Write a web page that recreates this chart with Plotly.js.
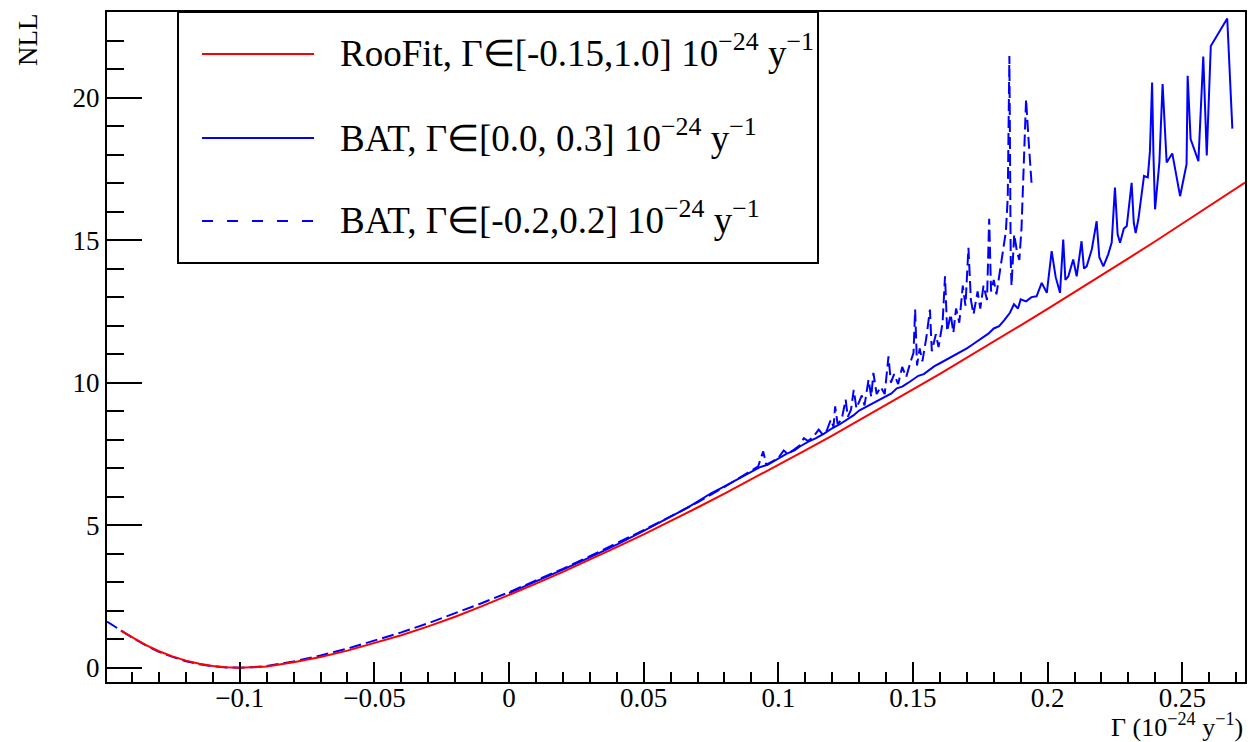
<!DOCTYPE html>
<html>
<head>
<meta charset="utf-8">
<script src="https://cdn.plot.ly/plotly-3.0.1.min.js"></script>
<style>
html,body{margin:0;padding:0;background:#fff;}
#chart{width:1250px;height:742px;}
</style>
</head>
<body>
<div id="chart"></div>
<script>
// ---------------- data ----------------
const gammaRoo = [-0.1442,-0.14,-0.135,-0.13,-0.125,-0.12,-0.115,-0.11,-0.105,-0.10,-0.095,-0.09,-0.08,-0.07,-0.06,-0.05,-0.04,-0.03,-0.02,-0.01,0.00,0.01,0.02,0.03,0.04,0.05,0.06,0.07,0.08,0.09,0.10,0.11,0.12,0.13,0.14,0.15,0.16,0.17,0.18,0.19,0.20,0.21,0.22,0.23,0.24,0.25,0.26,0.27,0.2733];
const nllRoo   = [1.30,1.06,0.80,0.58,0.40,0.25,0.14,0.06,0.015,0.0,0.01,0.04,0.19,0.38,0.60,0.86,1.14,1.45,1.79,2.16,2.55,2.95,3.36,3.79,4.23,4.68,5.14,5.62,6.11,6.61,7.11,7.62,8.14,8.67,9.21,9.76,10.31,10.87,11.44,12.01,12.59,13.17,13.76,14.36,14.96,15.57,16.19,16.81,17.02];

// BAT, Gamma in [0.0, 0.3]  (solid)
const gammaBatPos = [0.000,0.010,0.020,0.030,0.040,0.050,0.060,0.066,0.070,0.075,0.080,0.085,0.090,0.093,0.096,0.100,0.103,0.106,0.108,0.111,0.114,0.117,0.120,0.123,0.126,0.128,0.130,0.132,0.134,0.136,0.138,0.140,0.142,0.144,0.146,0.148,0.150,0.152,0.154,0.156,0.158,0.160,0.162,0.164,0.166,0.168,0.170,0.172,0.174,0.176,0.178,0.180,0.182,0.184,0.186,0.1875,0.189,0.190,0.192,0.194,0.1959,0.1978,0.1997,0.2015,0.2030,0.2046,0.2058,0.2066,0.2077,0.2095,0.2108,0.2126,0.2135,0.2145,0.2164,0.2182,0.2192,0.2207,0.2225,0.2238,0.2250,0.2260,0.2269,0.2283,0.2294,0.2312,0.2320,0.2327,0.2337,0.2358,0.2372,0.2380,0.2388,0.2393,0.2399,0.2415,0.2427,0.2442,0.2463,0.2492,0.2516,0.2520,0.2531,0.2560,0.2578,0.2591,0.2606,0.2667,0.2686];
const nllBatPos   = [2.62,3.02,3.44,3.87,4.32,4.80,5.29,5.60,5.83,6.12,6.36,6.62,6.87,7.03,7.12,7.33,7.50,7.62,7.76,7.92,8.05,8.21,8.40,8.55,8.72,8.86,9.02,9.12,9.20,9.30,9.42,9.50,9.62,9.80,9.86,9.98,10.10,10.24,10.30,10.45,10.58,10.68,10.78,10.90,10.98,11.08,11.20,11.33,11.45,11.58,11.72,11.90,11.98,12.20,12.45,12.75,12.60,12.92,12.85,13.00,13.03,13.50,13.15,14.61,13.70,13.15,15.02,13.60,13.73,14.32,13.73,14.96,14.00,14.08,14.67,15.66,14.40,14.08,14.50,14.91,16.84,15.20,14.91,15.40,15.49,17.01,15.60,15.25,15.73,17.25,17.20,18.12,20.53,18.00,16.08,17.72,20.47,17.72,18.04,16.54,17.66,20.76,18.54,17.77,21.44,17.97,21.81,22.77,18.91];

// BAT, Gamma in [-0.2, 0.2]  (dashed)
const gammaBatSym = [-0.1493,-0.145,-0.14,-0.135,-0.13,-0.125,-0.12,-0.115,-0.11,-0.105,-0.10,-0.095,-0.09,-0.08,-0.07,-0.06,-0.05,-0.04,-0.03,-0.02,-0.01,0.00,0.01,0.02,0.03,0.04,0.05,0.06,0.07,0.080,0.085,0.088,0.090,0.0925,0.0944,0.0955,0.098,0.100,0.102,0.1035,0.106,0.108,0.1095,0.111,0.113,0.115,0.1165,0.118,0.1195,0.1205,0.1211,0.1220,0.1235,0.1250,0.1258,0.127,0.128,0.129,0.131,0.132,0.1335,0.1345,0.1353,0.1365,0.138,0.1395,0.1409,0.1418,0.143,0.1445,0.146,0.1475,0.149,0.1502,0.1508,0.1515,0.1525,0.1535,0.155,0.1563,0.157,0.1585,0.1595,0.1610,0.1619,0.1627,0.1640,0.1650,0.1660,0.1672,0.1685,0.1695,0.1706,0.1715,0.1725,0.1740,0.1750,0.1762,0.1775,0.1783,0.1790,0.1800,0.1810,0.1823,0.1836,0.1845,0.1852,0.1858,0.1863,0.1866,0.1876,0.1886,0.1895,0.1903,0.1912,0.1920,0.1930,0.1941];
const nllBatSym   = [1.62,1.36,1.06,0.79,0.56,0.38,0.23,0.12,0.05,0.01,0.0,0.02,0.06,0.22,0.43,0.67,0.95,1.24,1.56,1.91,2.27,2.65,3.05,3.47,3.91,4.36,4.83,5.31,5.80,6.34,6.63,6.80,6.92,7.06,7.59,7.12,7.25,7.36,7.62,7.50,7.66,7.80,8.05,7.95,8.10,8.35,8.18,8.32,8.70,8.45,9.17,8.55,8.70,9.40,8.80,9.05,9.75,9.10,9.55,9.20,10.10,9.50,10.34,9.60,9.85,9.60,10.92,10.00,10.30,9.95,10.55,10.20,10.70,11.05,12.56,10.60,11.20,10.75,11.60,12.56,11.10,11.70,11.25,12.10,13.73,11.80,12.40,11.75,12.60,12.10,13.40,12.70,14.73,12.90,12.40,13.20,12.60,13.40,12.90,15.75,13.20,13.60,13.10,13.90,14.80,15.30,16.50,21.46,14.30,13.40,15.20,14.60,14.30,15.40,17.80,19.94,18.40,16.90];

const seriesNames = [
  'RooFit, Γ∈[-0.15,1.0] 10<sup>−24</sup> y<sup>−1</sup>',
  'BAT, Γ∈[0.0, 0.3] 10<sup>−24</sup> y<sup>−1</sup>',
  'BAT, Γ∈[-0.2,0.2] 10<sup>−24</sup> y<sup>−1</sup>'
];
const xTickVals = [-0.1,-0.05,0,0.05,0.1,0.15,0.2,0.25];
const xTickText = ['−0.1','−0.05','0','0.05','0.1','0.15','0.2','0.25'];
const yTickVals = [0,5,10,15,20];
const yTickText = ['0','5','10','15','20'];
const xTitle = 'Γ (10<sup>−24</sup> y<sup>−1</sup>)';
const yTitle = 'NLL';

// ---------------- styling ----------------
const FONT = 'Liberation Serif, Times New Roman, serif';
const RED = '#ff0000', BLUE = '#0000ff';
const seriesColors = [RED, BLUE, BLUE];
const seriesDash = ['solid', 'solid', '12px,5px'];
const legendDash = ['solid', 'solid', '11px,14px'];

const xMinor = [];
for (let i = -14; i <= 27; i++) xMinor.push(i / 100);
const yMinor = [];
for (let i = 1; i <= 22; i++) yMinor.push(i);

const traces = [
  {x: gammaRoo, y: nllRoo, name: seriesNames[0]},
  {x: gammaBatPos, y: nllBatPos, name: seriesNames[1]},
  {x: gammaBatSym, y: nllBatSym, name: seriesNames[2]}
].map((t, i) => Object.assign(t, {
  type: 'scatter', mode: 'lines', showlegend: false, hoverinfo: 'skip',
  line: {color: seriesColors[i], width: 2, dash: seriesDash[i]}
}));
// draw order: BAT dashed, BAT solid, RooFit on top
const ordered = [traces[2], traces[1], traces[0]];

// manual ROOT-like legend (paper coordinates)
const legBox = {x0: 0.0624, x1: 0.6248, y0: 0.6254, y1: 1.0};
const legRows = [0.9373, 0.8119, 0.6881];
const shapes = [{
  type: 'rect', xref: 'paper', yref: 'paper', layer: 'above',
  x0: legBox.x0, x1: legBox.x1, y0: legBox.y0, y1: legBox.y1,
  line: {color: 'black', width: 2}, fillcolor: 'white'
}];
const annotations = [];
legRows.forEach((yy, i) => {
  shapes.push({type: 'line', xref: 'paper', yref: 'paper', layer: 'above',
    x0: 0.0835, x1: 0.1819, y0: yy, y1: yy,
    line: {color: seriesColors[i], width: 2, dash: legendDash[i]}});
  annotations.push({xref: 'paper', yref: 'paper', x: 0.2030, y: yy + 0.0045,
    xanchor: 'left', yanchor: 'middle', showarrow: false, text: seriesNames[i],
    font: {family: FONT, size: 37, color: 'black'}});
});
annotations.push({xref: 'paper', yref: 'paper', x: -0.0694, y: 1.0, xanchor: 'center', yanchor: 'top',
  textangle: -90, showarrow: false, text: yTitle, font: {family: FONT, size: 27, color: 'black'}});
annotations.push({xref: 'paper', yref: 'paper', x: 1.0, y: -0.093, xanchor: 'right', yanchor: 'bottom',
  showarrow: false, text: xTitle, font: {family: FONT, size: 26, color: 'black'}});

const axisCommon = {
  tickmode: 'array', ticks: 'inside', tickwidth: 2, tickcolor: 'black',
  showline: true, linewidth: 2, linecolor: 'black', mirror: true,
  showgrid: false, zeroline: false,
  tickfont: {family: FONT, size: 27, color: 'black'}
};
const layout = {
  width: 1250, height: 742,
  margin: {l: 107, r: 5, t: 12, b: 60},
  paper_bgcolor: 'white', plot_bgcolor: 'white',
  showlegend: false,
  font: {family: FONT, size: 27, color: 'black'},
  xaxis: Object.assign({}, axisCommon, {
    range: [-0.1493, 0.2733], tickvals: xTickVals, ticktext: xTickText, ticklen: 20,
    ticklabelstandoff: -9,
    minor: {tickmode: 'array', tickvals: xMinor, ticks: 'inside', ticklen: 10, tickwidth: 2, tickcolor: 'black'}
  }),
  yaxis: Object.assign({}, axisCommon, {
    range: [-0.5, 23.0], tickvals: yTickVals, ticktext: yTickText, ticklen: 35,
    minor: {tickmode: 'array', tickvals: yMinor, ticks: 'inside', ticklen: 17, tickwidth: 2, tickcolor: 'black'}
  }),
  shapes: shapes,
  annotations: annotations
};
Plotly.newPlot('chart', ordered, layout, {displayModeBar: false, staticPlot: true});
</script>
</body>
</html>
